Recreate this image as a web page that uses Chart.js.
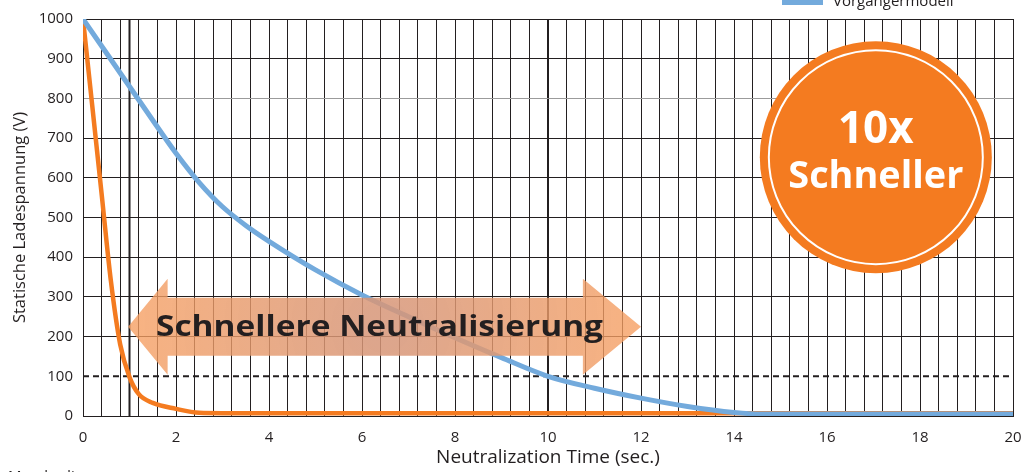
<!DOCTYPE html>
<html>
<head>
<meta charset="utf-8">
<script src="https://cdn.jsdelivr.net/npm/chart.js@4"></script>
<style>
  html, body { margin: 0; padding: 0; background: #fff; }
  #wrap { width: 1027px; height: 472px; position: relative; }
</style>
</head>
<body>
<div id="wrap"><canvas id="decayChart"></canvas></div>
<script>
// Decay curves
const newTimes = [0, 0.2, 0.4, 0.6, 0.8, 1.0, 1.2, 1.5, 2.0, 2.5, 3.0, 20];
const newVolts = [1000, 780, 560, 340, 180, 98, 55, 33, 18, 8, 7, 7];
const oldTimes = [0, 0.5, 1, 1.5, 2, 2.5, 3, 3.5, 4, 5, 6, 7, 8, 9, 10, 11, 12, 13, 14, 14.6, 20];
const oldVolts = [1000, 915, 830, 745, 662, 588, 527, 480, 440, 368, 305, 250, 197, 147, 100, 70, 45, 24, 9, 5, 5];
const legendLabels = ['Vorgängermodell'];
const arrowLabel = 'Schnellere Neutralisierung';
const badgeLines = ['10x', 'Schneller'];
const footNote = 'Messbedingungen';

const INK = '#231f20';
const ORANGE = '#f47b20';
const BLUE = '#73aadc';
const FONT = '"Open Sans", "Noto Sans", sans-serif';

const toPoints = (xs, ys) => xs.map((x, i) => ({ x: x, y: ys[i] }));
const near = (a, b) => Math.abs(a - b) < 1e-6;

const overlays = {
    id: 'overlays',
    beforeDatasetsDraw(chart) {
        const { ctx, chartArea: a, scales: { x, y } } = chart;
        ctx.save();
        // extra marker line at 1 s
        const x1 = x.getPixelForValue(1);
        ctx.strokeStyle = INK;
        ctx.lineWidth = 2;
        ctx.beginPath(); ctx.moveTo(x1, a.top); ctx.lineTo(x1, a.bottom); ctx.stroke();
        // dashed 100 V threshold
        const y100 = y.getPixelForValue(100);
        ctx.setLineDash([6, 4]);
        ctx.beginPath(); ctx.moveTo(a.left, y100); ctx.lineTo(a.right, y100); ctx.stroke();
        ctx.restore();
    },
    afterDatasetsDraw(chart) {
        const { ctx, scales: { x, y } } = chart;
        ctx.save();
        // double arrow
        const cy = y.getPixelForValue(225);
        const tipL = x.getPixelForValue(0.97), baseL = x.getPixelForValue(1.82);
        const baseR = x.getPixelForValue(10.75), tipR = x.getPixelForValue(12.0);
        const bh = 29, hh = 48;
        ctx.beginPath();
        ctx.moveTo(tipL, cy);
        ctx.lineTo(baseL, cy - hh); ctx.lineTo(baseL, cy - bh);
        ctx.lineTo(baseR, cy - bh); ctx.lineTo(baseR, cy - hh);
        ctx.lineTo(tipR, cy);
        ctx.lineTo(baseR, cy + hh); ctx.lineTo(baseR, cy + bh);
        ctx.lineTo(baseL, cy + bh); ctx.lineTo(baseL, cy + hh);
        ctx.closePath();
        const g = ctx.createRadialGradient((tipL + tipR) / 2, cy, 20, (tipL + tipR) / 2, cy, 260);
        g.addColorStop(0, 'rgba(215,150,120,0.85)');
        g.addColorStop(1, 'rgba(247,158,95,0.78)');
        ctx.fillStyle = g;
        ctx.fill();

        ctx.fillStyle = INK;
        ctx.font = 'bold 28px ' + FONT;
        ctx.textAlign = 'center';
        ctx.textBaseline = 'middle';
        const want = 447, w = ctx.measureText(arrowLabel).width;
        ctx.translate((156 + 603) / 2, cy + 1);
        ctx.scale(want / w, 1);
        ctx.fillText(arrowLabel, 0, 0);
        ctx.restore();

        // badge
        ctx.save();
        const bx = x.getPixelForValue(17.05), by = y.getPixelForValue(652);
        ctx.fillStyle = ORANGE;
        ctx.beginPath(); ctx.arc(bx, by, 116, 0, Math.PI * 2); ctx.fill();
        ctx.strokeStyle = '#fff';
        ctx.lineWidth = 2;
        ctx.beginPath(); ctx.arc(bx, by, 107, 0, Math.PI * 2); ctx.stroke();
        ctx.fillStyle = '#fff';
        ctx.textAlign = 'center';
        ctx.textBaseline = 'middle';
        ctx.font = 'bold 44px ' + FONT;
        ctx.fillText(badgeLines[0], bx, by - 27);
        ctx.font = 'bold 38px ' + FONT;
        const sw = ctx.measureText(badgeLines[1]).width;
        ctx.translate(bx, by + 20);
        ctx.scale(175 / sw, 1);
        ctx.fillText(badgeLines[1], 0, 0);
        ctx.restore();
    },
    afterDraw(chart) {
        const { ctx } = chart;
        ctx.save();
        // clipped legend fragment at the top
        ctx.fillStyle = BLUE;
        ctx.fillRect(782, -1, 41, 6);
        ctx.fillStyle = INK;
        ctx.font = '15px ' + FONT;
        ctx.textBaseline = 'alphabetic';
        ctx.fillText(legendLabels[0], 833, 6);
        // clipped note at the bottom
        ctx.fillText(footNote, 8, 481);
        ctx.restore();
    }
};

new Chart(document.getElementById('decayChart'), {
    type: 'line',
    data: {
        datasets: [
            {
                label: 'Neues Modell',
                data: toPoints(newTimes, newVolts),
                borderColor: ORANGE,
                borderWidth: 4.5,
                pointRadius: 0,
                cubicInterpolationMode: 'monotone',
                order: 1
            },
            {
                label: legendLabels[0],
                data: toPoints(oldTimes, oldVolts),
                borderColor: BLUE,
                borderWidth: 5,
                pointRadius: 0,
                cubicInterpolationMode: 'monotone',
                order: 0
            }
        ]
    },
    options: {
        responsive: true,
        maintainAspectRatio: false,
        animation: false,
        layout: { padding: { top: 18, right: 14, left: 0, bottom: 0 } },
        plugins: { legend: { display: false }, tooltip: { enabled: false } },
        scales: {
            x: {
                type: 'linear',
                min: 0,
                max: 20,
                afterFit: (s) => { s.height = 56; s.paddingLeft = 0; s.paddingRight = 0; },
                ticks: {
                    stepSize: 0.4,
                    autoSkip: false,
                    maxRotation: 0,
                    padding: 13,
                    color: INK,
                    font: { family: FONT, size: 15 },
                    callback: (v) => near(v / 2, Math.round(v / 2)) ? String(Math.round(v)) : ''
                },
                grid: {
                    drawTicks: false,
                    color: INK,
                    lineWidth: (c) => c.tick && near(c.tick.value, 10) ? 2 : 1
                },
                border: { color: INK, width: 1 },
                title: {
                    display: true,
                    text: 'Neutralization Time (sec.)',
                    color: INK,
                    font: { family: FONT, size: 19 },
                    padding: { top: 0, bottom: 3 }
                }
            },
            y: {
                min: 0,
                max: 1000,
                afterFit: (s) => { s.width = 83; },
                ticks: {
                    stepSize: 100,
                    padding: 10,
                    color: INK,
                    font: { family: FONT, size: 15 },
                    callback: (v) => String(v)
                },
                grid: {
                    drawTicks: false,
                    color: (c) => {
                        const v = c.tick ? c.tick.value : -1;
                        if (v === 800) return '#9b9b9b';
                        if (v === 100) return 'rgba(0,0,0,0)';
                        return INK;
                    }
                },
                border: { color: INK, width: 1 },
                title: {
                    display: true,
                    text: 'Statische Ladespannung (V)',
                    color: INK,
                    font: { family: FONT, size: 16.5 },
                    padding: { top: 10, bottom: 0 }
                }
            }
        }
    },
    plugins: [overlays]
});
</script>
</body>
</html>
